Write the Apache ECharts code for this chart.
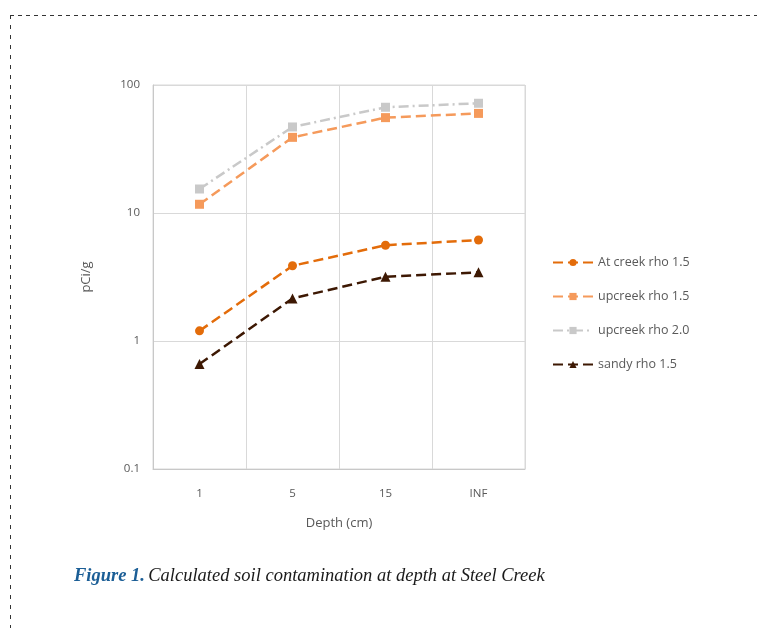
<!DOCTYPE html>
<html>
<head>
<meta charset="utf-8">
<style>
  html, body { margin: 0; padding: 0; background: #fff; }
  #chart { width: 757px; height: 628px; }
</style>
<script src="https://cdn.jsdelivr.net/npm/echarts@6/dist/echarts.min.js"></script>
</head>
<body>
<div id="chart"></div>
<script>
// Depth categories and computed activity (pCi/g) for each soil case
const depths = ['1', '5', '15', 'INF'];
const atCreek15 = [1.2, 3.87, 5.6, 6.15];
const upcreek15 = [11.7, 39, 55.6, 60];
const upcreek20 = [15.4, 47, 67, 72];
const sandy15 = [0.66, 2.15, 3.18, 3.44];
const yTicks = [0.1, 1, 10, 100];

const chart = echarts.init(document.getElementById('chart'));
const axisFont = { fontFamily: 'Open Sans', fontSize: 11.5, color: '#595959' };

function lineSeries(name, data, color, symbol, size, dash) {
  return {
    name: name,
    type: 'line',
    data: data,
    symbol: symbol,
    symbolSize: size,
    showSymbol: true,
    lineStyle: { color: color, width: 2.5, type: dash },
    itemStyle: { color: color },
    emphasis: { disabled: true },
    z: 3
  };
}

chart.setOption({
  animation: false,
  backgroundColor: '#ffffff',
  grid: { left: 153, top: 85, right: 232, bottom: 159, show: true, borderColor: '#d9d9d9', borderWidth: 1 },
  xAxis: {
    type: 'category',
    data: depths,
    boundaryGap: true,
    name: 'Depth (cm)',
    nameLocation: 'middle',
    nameGap: 48,
    nameTextStyle: Object.assign({}, axisFont, { fontSize: 13 }),
    axisLine: { lineStyle: { color: '#c8c8c8' } },
    axisTick: { show: false },
    axisLabel: Object.assign({}, axisFont, { margin: 19 }),
    splitLine: { show: true, lineStyle: { color: '#d9d9d9' } }
  },
  yAxis: {
    type: 'log',
    logBase: 10,
    min: yTicks[0],
    max: yTicks[yTicks.length - 1],
    name: 'pCi/g',
    nameLocation: 'middle',
    nameGap: 60,
    nameRotate: 90,
    nameTextStyle: Object.assign({}, axisFont, { fontSize: 13 }),
    axisLine: { show: true, lineStyle: { color: '#c8c8c8' } },
    axisTick: { show: false },
    axisLabel: Object.assign({}, axisFont, { margin: 13, formatter: v => String(v) }),
    splitLine: { show: true, lineStyle: { color: '#d9d9d9' } }
  },
  legend: {
    orient: 'vertical',
    left: 547,
    top: 251,
    itemGap: 21,
    itemWidth: 40,
    itemHeight: 9,
    textStyle: { fontFamily: 'Open Sans', fontSize: 12.5, color: '#595959' },
    data: ['At creek rho 1.5', 'upcreek rho 1.5', 'upcreek rho 2.0', 'sandy rho 1.5']
  },
  series: [
    lineSeries('At creek rho 1.5', atCreek15, '#e36c0a', 'circle', 9, [10, 5]),
    lineSeries('upcreek rho 1.5', upcreek15, '#f59a5b', 'rect', 9, [10, 5]),
    lineSeries('upcreek rho 2.0', upcreek20, '#c9c9c9', 'rect', 9, [10, 4, 2, 4]),
    lineSeries('sandy rho 1.5', sandy15, '#3d1803', 'triangle', 10, [10, 5])
  ],
  graphic: [
    // dashed frame around the figure
    { type: 'line', shape: { x1: 10, y1: 15.5, x2: 757, y2: 15.5 }, style: { stroke: '#333', lineWidth: 1, lineDash: [4, 4] }, silent: true },
    { type: 'line', shape: { x1: 10.5, y1: 15, x2: 10.5, y2: 628 }, style: { stroke: '#333', lineWidth: 1, lineDash: [4, 6] }, silent: true },
    // caption
    {
      type: 'text', left: 74, top: 567,
      style: {
        rich: {
          a: { fontFamily: 'Liberation Serif', fontStyle: 'italic', fontWeight: 'bold', fontSize: 18.5, fill: '#1b5e96' },
          b: { fontFamily: 'Liberation Serif', fontStyle: 'italic', fontSize: 18.5, fill: '#1a1a1a' }
        },
        text: '{a|Figure 1.} {b|Calculated soil contamination at depth at Steel Creek}'
      }
    }
  ]
});
</script>
</body>
</html>
